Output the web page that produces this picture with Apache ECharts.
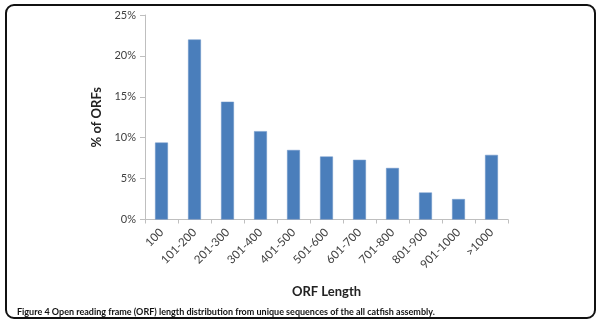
<!DOCTYPE html>
<html><head><meta charset="utf-8">
<script src="https://cdn.jsdelivr.net/npm/echarts@6/dist/echarts.min.js"></script>
<style>
html,body{margin:0;padding:0;background:#fff;}
#frame{position:absolute;left:5px;top:4px;width:587px;height:311px;border:2px solid #111;border-radius:9px;}
#c{position:absolute;left:0;top:0;width:600px;height:326px;}
</style></head>
<body>
<div id="frame"></div>
<div id="c"></div>
<script>
const categories = ['100','101-200','201-300','301-400','401-500','501-600','601-700','701-800','801-900','901-1000','>1000'];
const orfPercent = [9.4, 22.0, 14.4, 10.8, 8.5, 7.7, 7.3, 6.3, 3.3, 2.5, 7.9];
const yTicks = {min: 0, max: 25, interval: 5};
const captionText = 'Figure 4 Open reading frame (ORF) length distribution from unique sequences of the all catfish assembly.';

const chart = echarts.init(document.getElementById('c'));
chart.setOption({
  animation: false,
  title: {
    text: captionText, left: 12, top: 303,
    textStyle: {fontFamily: 'Lato', fontWeight: 'bold', fontSize: 9, color: '#111'}
  },
  grid: {left: 145, right: 92, top: 15, bottom: 106.5},
  xAxis: {
    type: 'category', data: categories,
    name: 'ORF Length', nameLocation: 'middle', nameGap: 66,
    nameTextStyle: {fontFamily: 'Lato', fontWeight: 'bold', fontSize: 13, color: '#222'},
    axisLine: {lineStyle: {color: '#bfbfbf'}},
    axisTick: {show: true, alignWithLabel: false, length: 4, lineStyle: {color: '#bfbfbf'}},
    axisLabel: {rotate: 45, fontFamily: 'Lato', fontSize: 11.5, color: '#404040', margin: 11, interval: 0}
  },
  yAxis: {
    type: 'value', min: yTicks.min, max: yTicks.max, interval: yTicks.interval,
    name: '% of ORFs', nameLocation: 'middle', nameGap: 42,
    nameTextStyle: {fontFamily: 'Lato', fontWeight: 'bold', fontSize: 13, color: '#222'},
    axisLine: {show: true, lineStyle: {color: '#bfbfbf'}},
    axisTick: {show: true, length: 5, lineStyle: {color: '#bfbfbf'}},
    splitLine: {show: false},
    axisLabel: {formatter: '{value}%', fontFamily: 'Lato', fontSize: 11, color: '#404040', margin: 9}
  },
  series: [{
    type: 'bar', data: orfPercent, barWidth: '39%',
    itemStyle: {color: '#4a7ebb', borderColor: '#6d95c8', borderWidth: 0.5}
  }]
});
</script>
</body></html>
